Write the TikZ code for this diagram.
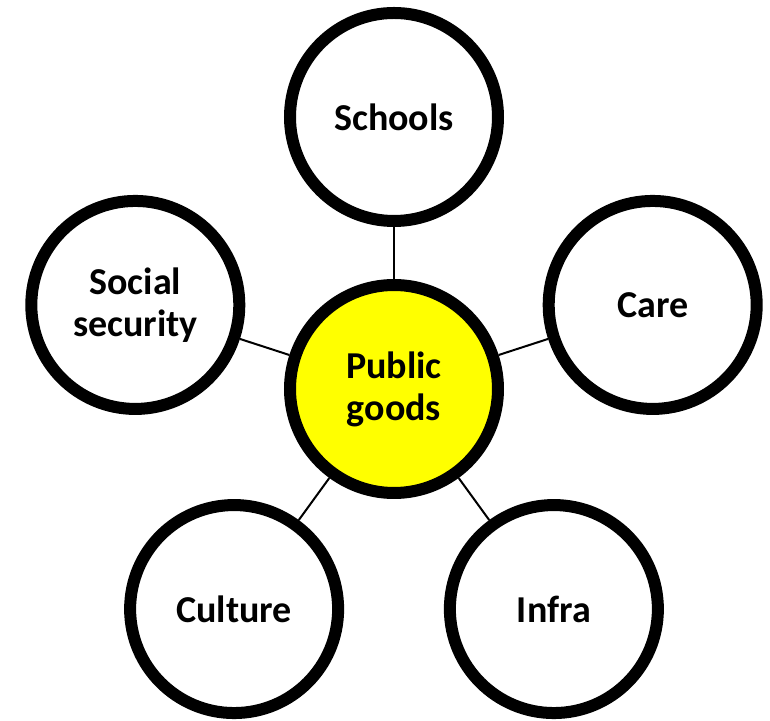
\documentclass[tikz,border=0pt]{standalone}
\usepackage{fontspec}
\setmainfont{Carlito}
\usepackage{tikz}
\usetikzlibrary{trees}
\definecolor{goodsyellow}{RGB}{255,255,0}

\begin{document}
\begin{tikzpicture}[level distance=136pt,
level 1/.style={clockwise from=90, sibling angle=72},
every node/.style={circle, draw, line width=6pt, fill=white, minimum size=104pt, inner sep=0pt, align=center, font=\bfseries\fontsize{19}{21}\selectfont},
edge from parent/.style={draw, line width=1pt}]
\useasboundingbox (-197pt,-166pt) rectangle (188pt,194.5pt);
\node[fill=goodsyellow] (goods) {Public\\goods}
child {node (schools) {Schools}}
child {node (care) {Care}}
child {node (infra) {Infra}}
child {node (culture) {Culture}}
child {node (social) {Social\\security}};
\end{tikzpicture}
\end{document}
